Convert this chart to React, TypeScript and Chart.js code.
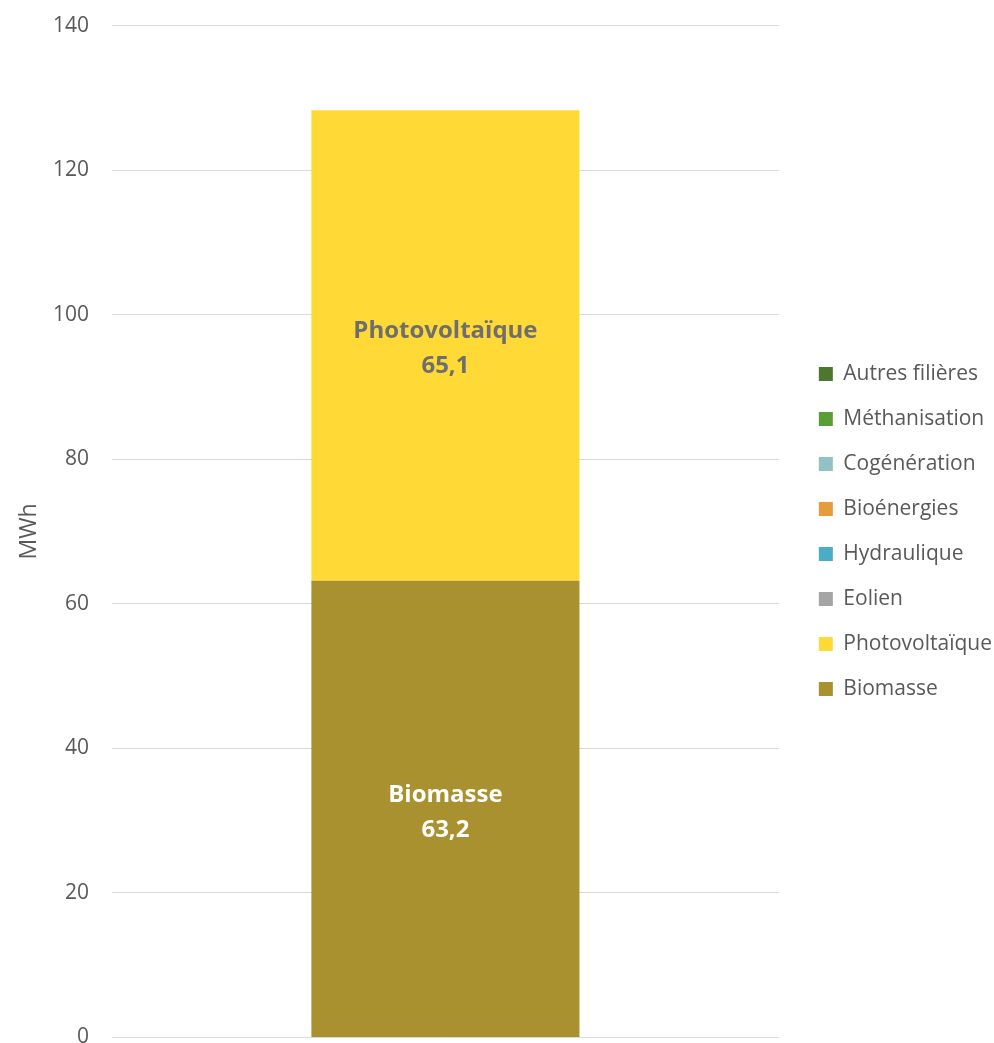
import React, { useEffect, useRef } from "react";
import { Chart, registerables } from "chart.js";

Chart.register(...registerables);

const categories = [""];
const seriesNames = [
  "Biomasse",
  "Photovoltaïque",
  "Eolien",
  "Hydraulique",
  "Bioénergies",
  "Cogénération",
  "Méthanisation",
  "Autres filières",
];
const biomasse = [63.2];
const photovoltaique = [65.1];
const eolien = [0];
const hydraulique = [0];
const bioenergies = [0];
const cogeneration = [0];
const methanisation = [0];
const autres = [0];
const seriesValues = [biomasse, photovoltaique, eolien, hydraulique, bioenergies, cogeneration, methanisation, autres];
const seriesColors = ["#A9912F", "#FFDA37", "#A5A5A5", "#4BACC6", "#E59C39", "#93C2C4", "#5A9E37", "#4C772E"];
const labelColors = ["#FFFFFF", "#6E6E6E", "#FFFFFF", "#FFFFFF", "#FFFFFF", "#FFFFFF", "#FFFFFF", "#FFFFFF"];
const yTicks = { min: 0, max: 140, step: 20 };
const yTitle = "MWh";

const FONT = "'Open Sans', sans-serif";

const barLabels = {
  id: "barLabels",
  afterDatasetsDraw(chart: any) {
    const ctx = chart.ctx;
    chart.data.datasets.forEach((ds: any, i: number) => {
      const meta = chart.getDatasetMeta(i);
      if (meta.hidden) return;
      meta.data.forEach((bar: any, j: number) => {
        const v = ds.data[j];
        if (!v) return;
        const { x, y, base } = bar.getProps(["x", "y", "base"], true);
        const cy = (y + base) / 2;
        ctx.save();
        ctx.font = `bold 24px ${FONT}`;
        ctx.fillStyle = labelColors[i];
        ctx.textAlign = "center";
        ctx.textBaseline = "middle";
        ctx.fillText(ds.label, x, cy - 14);
        ctx.fillText(v.toFixed(1).replace(".", ","), x, cy + 21);
        ctx.restore();
      });
    });
  },
};

export default function App() {
  const ref = useRef<HTMLCanvasElement>(null);
  useEffect(() => {
    let chart: any = null;
    let cancelled = false;
    const loads = [
      document.fonts.load(`21px "Open Sans"`),
      document.fonts.load(`bold 24px "Open Sans"`),
    ];
    Promise.all(loads)
      .catch(() => null)
      .then(() => {
        if (cancelled || !ref.current) return;
        Chart.defaults.font.family = FONT;
        chart = new Chart(ref.current, {
          type: "bar",
          data: {
            labels: categories,
            datasets: seriesNames.map((name, i) => ({
              label: name,
              data: seriesValues[i],
              backgroundColor: seriesColors[i],
              borderWidth: 0,
              categoryPercentage: 1,
              barPercentage: 0.402,
            })),
          },
          options: {
            responsive: false,
            animation: false,
            layout: { padding: { top: 0, right: -8, bottom: 0, left: 0 } },
            plugins: {
              tooltip: { enabled: false },
              legend: {
                position: "right",
                align: "center",
                reverse: true,
                maxWidth: 400,
                labels: {
                  boxWidth: 14,
                  boxHeight: 14,
                  padding: 24,
                  color: "#595959",
                  font: { size: 21, family: FONT },
                },
              },
            },
            scales: {
              x: { stacked: true, display: false },
              y: {
                stacked: true,
                min: yTicks.min,
                max: yTicks.max,
                ticks: { stepSize: yTicks.step, padding: 23, color: "#595959", font: { size: 21, family: FONT } },
                grid: { color: "#D9D9D9", lineWidth: 1, drawTicks: false },
                border: { display: false },
                title: {
                  display: true,
                  text: yTitle,
                  color: "#595959",
                  font: { size: 23, family: FONT },
                  padding: { top: 16, bottom: 8 },
                },
                afterFit: (s: any) => {
                  s.width = 112;
                },
              },
              pad: {
                type: "linear",
                position: "right",
                display: true,
                grid: { display: false },
                ticks: { display: false },
                border: { display: false },
                afterFit: (s: any) => {
                  s.width = 16;
                },
              },
            },
          },
          plugins: [barLabels],
        });
      });
    return () => {
      cancelled = true;
      if (chart) chart.destroy();
    };
  }, []);
  return (
    <div style={{ position: "fixed", left: 0, top: -10, width: 994, height: 1083 }}>
      <canvas ref={ref} width={994} height={1083} style={{ display: "block" }} />
    </div>
  );
}
